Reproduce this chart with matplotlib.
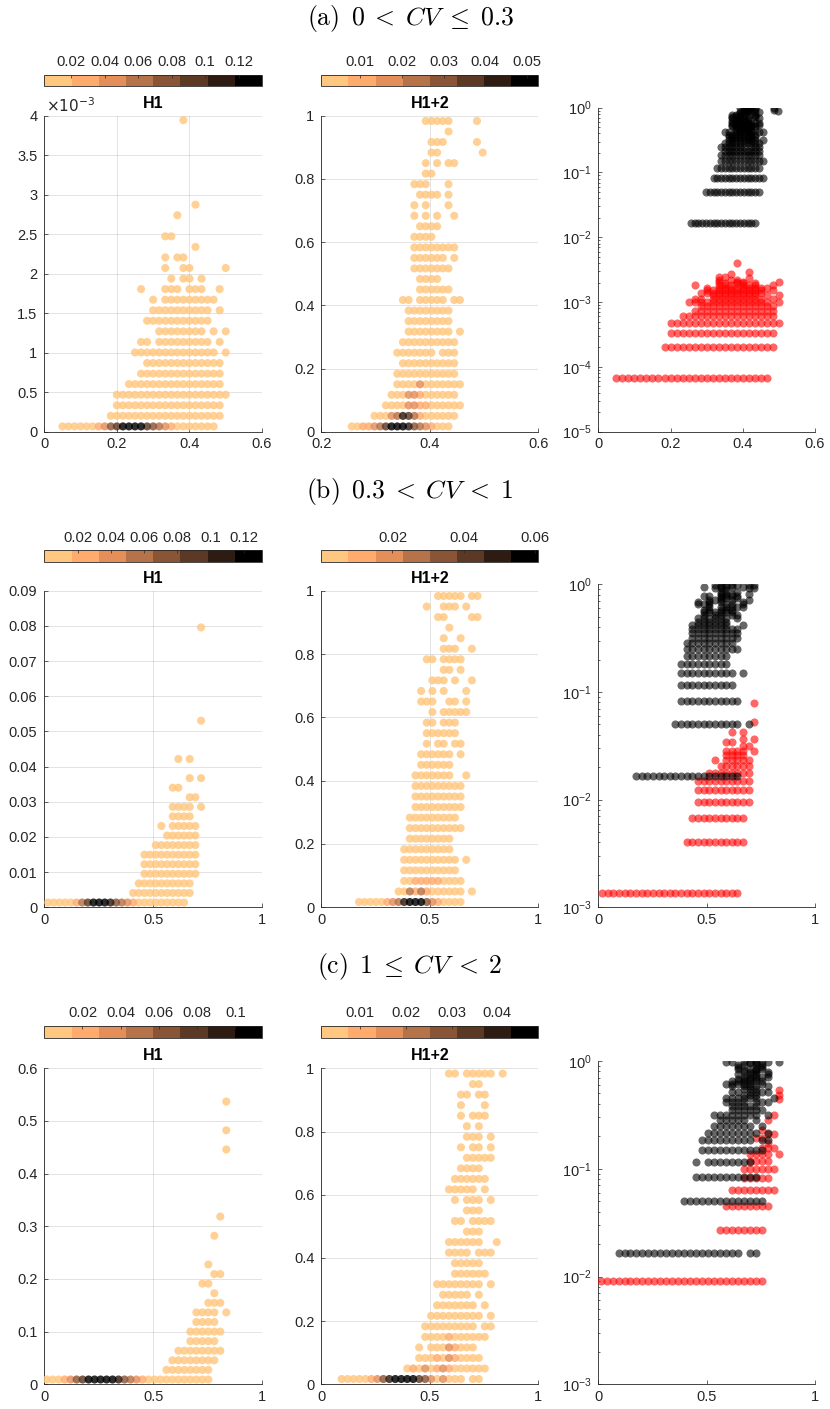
import numpy as np
import matplotlib
matplotlib.use("Agg")
import matplotlib.pyplot as plt
from matplotlib.colors import ListedColormap, Normalize
from matplotlib.cm import ScalarMappable
from matplotlib.ticker import FuncFormatter, LogLocator, NullFormatter

plt.rcParams['font.family'] = ['Liberation Sans', 'DejaVu Sans']
plt.rcParams['axes.unicode_minus'] = True

# ---------------------------------------------------------------------------
# Binned samples.  Each row: (value on the y-axis, occupied x-bins, {bin: frequency class}).
# x of bin i is x0 + i*dx.  Frequency classes run 1 (lowest) .. 8 (highest) of the colour scale;
# bins not listed in the class map are class 1.
# ---------------------------------------------------------------------------

# (a) 0 < CV <= 0.3
A_H1_GRID = (0.0, 1 / 60)
A_H1_ROWS = [
    (0.067e-3, "3-28", {9: 2, 10: 3, 11: 5, 12: 6, 13: 8, 14: 8, 15: 8, 16: 8,
                        17: 6, 18: 5, 19: 4, 20: 3, 21: 2}),
    (0.201e-3, "11-29"),
    (0.334e-3, "12-29"),
    (0.468e-3, "12-30"),
    (0.602e-3, "14-29"),
    (0.735e-3, "16-29"),
    (0.869e-3, "17-29"),
    (1.003e-3, "15-28,30"),
    (1.136e-3, "16,17,19-27,29"),
    (1.270e-3, "19-26,28,30"),
    (1.404e-3, "17-27"),
    (1.537e-3, "18-27,29"),
    (1.671e-3, "18,20-28"),
    (1.805e-3, "16,20-22,24-26,29"),
    (1.938e-3, "21,23,24,26"),
    (2.072e-3, "20,23,24,30"),
    (2.206e-3, "20,22,23"),
    (2.339e-3, "25"),
    (2.473e-3, "20,21"),
    (2.740e-3, "22"),
    (2.874e-3, "25"),
    (3.944e-3, "23"),
]
A_H1_CRANGE = (0.004, 0.134)
A_H1_CTICKS = [0.02, 0.04, 0.06, 0.08, 0.1, 0.12]

A_H12_GRID = (0.256, 0.0105)
A_H12_ROWS = [
    (0.0167, "0-17", {2: 2, 3: 2, 4: 3, 5: 4, 6: 6, 7: 8, 8: 8, 9: 8, 10: 7,
                      11: 5, 12: 4, 13: 3, 14: 2}),
    (0.0500, "4-18", {7: 3, 8: 4, 9: 7, 10: 6, 11: 4, 12: 2}),
    (0.0833, "6-19", {10: 3, 11: 3, 12: 2, 13: 2}),
    (0.1167, "7-18", {10: 3, 11: 3, 12: 2}),
    (0.1500, "8-19", {12: 3}),
    (0.1833, "8-18"),
    (0.2167, "9-18"),
    (0.2500, "8-14,16-18"),
    (0.2833, "9-18"),
    (0.3167, "10-17,19"),
    (0.3500, "10-17"),
    (0.3833, "10-17"),
    (0.4167, "9,10,12-16,18,19"),
    (0.4500, "12-17"),
    (0.4833, "12-15"),
    (0.5167, "11-17"),
    (0.5500, "11-16,18"),
    (0.5833, "11-18"),
    (0.6167, "11-14"),
    (0.6500, "12-15"),
    (0.6833, "11,13,15,18"),
    (0.7167, "11,13,17"),
    (0.7500, "12-15,17"),
    (0.7833, "11-13,17"),
    (0.8167, "13,14"),
    (0.8500, "13,15,17,18"),
    (0.8833, "14,15,23"),
    (0.9167, "14-16,22"),
    (0.9500, "17"),
    (0.9833, "13-17,22"),
]
A_H12_CRANGE = (0.0007, 0.0527)
A_H12_CTICKS = [0.01, 0.02, 0.03, 0.04, 0.05]

# (b) 0.3 < CV < 1
B_H1_GRID = (0.018, 0.026)
B_H1_ROWS = [
    (0.00136, "0-24", {5: 2, 6: 4, 7: 6, 8: 8, 9: 8, 10: 8, 11: 7, 12: 5,
                       13: 4, 14: 3, 15: 2}),
    (0.00408, "15-25"),
    (0.00680, "16-25"),
    (0.00952, "17-26"),
    (0.01224, "17-26"),
    (0.01496, "17-26"),
    (0.01768, "19-26"),
    (0.02040, "21-26"),
    (0.02312, "20,22-26"),
    (0.02584, "22-25"),
    (0.02856, "22-25,27"),
    (0.03128, "25,26"),
    (0.03400, "22,23"),
    (0.03672, "25,27"),
    (0.04216, "23,25"),
    (0.05304, "27"),
    (0.07956, "27"),
]
B_H1_CRANGE = (0.0, 0.131)
B_H1_CTICKS = [0.02, 0.04, 0.06, 0.08, 0.1, 0.12]

B_H12_GRID = (0.018, 0.026)
B_H12_ROWS = [
    (0.0167, "6-24", {11: 2, 12: 3, 13: 4, 14: 7, 15: 8, 16: 8, 17: 8, 18: 5,
                      19: 3, 20: 2}),
    (0.0500, "13-24,26", {15: 4, 16: 2, 17: 4, 18: 2}),
    (0.0833, "14-24", {16: 2, 17: 2, 18: 2, 19: 2, 20: 2}),
    (0.1167, "14-23"),
    (0.1500, "14-23,25"),
    (0.1833, "14-22"),
    (0.2167, "15-22"),
    (0.2500, "15-24"),
    (0.2833, "15-23"),
    (0.3167, "16-24"),
    (0.3500, "16-24"),
    (0.3833, "16-24"),
    (0.4167, "16-22,25"),
    (0.4500, "17-22"),
    (0.4833, "17-22,24"),
    (0.5167, "18,20,21,23,24"),
    (0.5500, "18-23"),
    (0.5833, "18,19,21-23"),
    (0.6167, "19,21-25"),
    (0.6500, "17-19,22,23,25"),
    (0.6833, "17,19,21,25"),
    (0.7167, "19-21,23,26"),
    (0.7500, "21,22,24"),
    (0.7833, "18,19,21-24"),
    (0.8167, "21-23,26"),
    (0.8500, "21,24"),
    (0.8833, "22"),
    (0.9167, "20,21,26,27"),
    (0.9500, "18,21-23,25"),
    (0.9833, "20-24,26,27"),
]
B_H12_CRANGE = (0.0, 0.061)
B_H12_CTICKS = [0.02, 0.04, 0.06]

# (c) 1 <= CV < 2
C_H1_GRID = (0.011, 0.0275)
C_H1_ROWS = [
    (0.0091, "0-27", {3: 2, 4: 3, 5: 5, 6: 6, 7: 8, 8: 8, 9: 8, 10: 8, 11: 8,
                      12: 7, 13: 5, 14: 4, 15: 3, 16: 2}),
    (0.0273, "20-27"),
    (0.0455, "21-28"),
    (0.0637, "22-29"),
    (0.0819, "24-28"),
    (0.1001, "24-29"),
    (0.1183, "25-28"),
    (0.1365, "25-28,30"),
    (0.1547, "27-29"),
    (0.1729, "28"),
    (0.1911, "26,27"),
    (0.2093, "28,29"),
    (0.2275, "27"),
    (0.2821, "28"),
    (0.3185, "29"),
    (0.4459, "30"),
    (0.4823, "30"),
    (0.5369, "30"),
]
C_H1_CRANGE = (0.0, 0.114)
C_H1_CTICKS = [0.02, 0.04, 0.06, 0.08, 0.1]

C_H12_GRID = (0.011, 0.0275)
C_H12_ROWS = [
    (0.0167, "3-23,25,26", {8: 2, 9: 3, 10: 5, 11: 7, 12: 8, 13: 8, 14: 8, 15: 8,
                            16: 6, 17: 5, 18: 3, 20: 3}),
    (0.0500, "14-27", {15: 2, 17: 3, 19: 2, 20: 3, 21: 2}),
    (0.0833, "16-26", {19: 2, 21: 3, 22: 2}),
    (0.1167, "16,18-25", {21: 3, 22: 2}),
    (0.1500, "17-27", {21: 2}),
    (0.1833, "17-25,27,28"),
    (0.2167, "18-26,28"),
    (0.2500, "19-25,27"),
    (0.2833, "20-24,26"),
    (0.3167, "19-26,28"),
    (0.3500, "22-27"),
    (0.3833, "22-26"),
    (0.4167, "21-24,26-28"),
    (0.4500, "21-26,29"),
    (0.4833, "24-26"),
    (0.5167, "22,23,25-28"),
    (0.5500, "24-26"),
    (0.5833, "22,24-26,28"),
    (0.6167, "21-25,27"),
    (0.6500, "22-27"),
    (0.6833, "23-26"),
    (0.7167, "24-28"),
    (0.7500, "23,25,26,28"),
    (0.7833, "24-26,28"),
    (0.8167, "24,26"),
    (0.8500, "23,25-27"),
    (0.8833, "23,27"),
    (0.9167, "23,24,26,27"),
    (0.9500, "25,26"),
    (0.9833, "21,22,24-28,30"),
]
C_H12_CRANGE = (0.0015, 0.049)
C_H12_CTICKS = [0.01, 0.02, 0.03, 0.04]

ROW_TITLES = [r"$\mathrm{(a)}\ \,0 \;<\; CV \;\leq\; 0.3$",
              r"$\mathrm{(b)}\ \,0.3 \;<\; CV \;<\; 1$",
              r"$\mathrm{(c)}\ \,1 \;\leq\; CV \;<\; 2$"]

# ---------------------------------------------------------------------------
W, H = 830, 1409
fig = plt.figure(figsize=(W / 100, H / 100), dpi=100)
fig.patch.set_facecolor("white")

AX_COL = (0.15, 0.15, 0.15)
COPPER8 = ['#FFC77F', '#FFAB6D', '#E48E5A', '#B67248',
           '#895536', '#5B3924', '#2E1C12', '#000000']
CMAP = ListedColormap(COPPER8)
MARKER_S = 34


def px_axes(left, top, right, bottom):
    return fig.add_axes([left / W, 1 - bottom / H, (right - left) / W, (bottom - top) / H])


def decode(rows, grid):
    x0, dx = grid
    xs, ys, cls = [], [], []
    for row in rows:
        y, spec = row[0], row[1]
        shade = row[2] if len(row) > 2 else {}
        for part in spec.split(','):
            if '-' in part:
                a, b = map(int, part.split('-'))
                bins = range(a, b + 1)
            else:
                bins = [int(part)]
            for i in bins:
                xs.append(x0 + i * dx)
                ys.append(y)
                cls.append(shade.get(i, 1))
    return np.array(xs), np.array(ys), np.array(cls)


def fmt_g(v, _):
    return f"{v:g}"


def base_style(ax):
    for s in ('top', 'right'):
        ax.spines[s].set_visible(False)
    for s in ('left', 'bottom'):
        ax.spines[s].set_color(AX_COL)
        ax.spines[s].set_linewidth(0.6)
    ax.tick_params(which='both', direction='in', colors=AX_COL, labelcolor=AX_COL,
                   labelsize=10.5, width=0.5)
    ax.tick_params(which='major', length=2.8)
    ax.tick_params(which='minor', length=1.6)
    ax.tick_params(axis='x', pad=4)
    ax.tick_params(axis='y', pad=5)
    ax.set_axisbelow(True)


def freq_panel(ax, cax, rows, grid, crange, cticks, xlim, xticks, ylim, yticks,
               title, title_y, yscale=1.0):
    xs, ys, cls = decode(rows, grid)
    vmin, vmax = crange
    vals = vmin + (cls - 0.5) * (vmax - vmin) / 8
    order = np.argsort(cls, kind='stable')
    norm = Normalize(vmin, vmax)
    ax.scatter(xs[order], ys[order], c=vals[order], cmap=CMAP, norm=norm,
               s=MARKER_S, alpha=0.82, linewidths=0, zorder=3)
    ax.set_xlim(xlim)
    ax.set_ylim(ylim)
    ax.set_xticks(xticks)
    ax.set_yticks(yticks)
    ax.xaxis.set_major_formatter(FuncFormatter(fmt_g))
    ax.yaxis.set_major_formatter(FuncFormatter(lambda v, p: f"{round(v / yscale, 6):g}"))
    ax.grid(True, color=AX_COL, alpha=0.15, linewidth=0.6)
    base_style(ax)

    cb = fig.colorbar(ScalarMappable(norm=norm, cmap=CMAP), cax=cax,
                      orientation='horizontal', ticklocation='top')
    cb.set_ticks(cticks)
    cb.ax.xaxis.set_major_formatter(FuncFormatter(fmt_g))
    cb.ax.tick_params(direction='in', length=2.5, width=0.5, labelsize=10.6,
                      colors=AX_COL, labelcolor=AX_COL, pad=4)
    cb.outline.set_linewidth(0.6)
    cb.outline.set_edgecolor(AX_COL)

    bb = ax.get_position()
    fig.text((bb.x0 + bb.x1) / 2, 1 - title_y / H, title, ha='center', va='center',
             fontsize=11.5, fontweight='bold', color='black')


def log_panel(ax, h1_rows, h1_grid, h12_rows, h12_grid, xlim, xticks, ylim):
    x1, y1, _ = decode(h1_rows, h1_grid)
    x2, y2, _ = decode(h12_rows, h12_grid)
    ax.scatter(x1, y1, s=MARKER_S, color='red', alpha=0.6, linewidths=0, zorder=3)
    ax.scatter(x2, y2, s=MARKER_S, color='black', alpha=0.6, linewidths=0, zorder=4)
    ax.set_yscale('log')
    ax.set_xlim(xlim)
    ax.set_ylim(ylim)
    ax.set_xticks(xticks)
    ax.xaxis.set_major_formatter(FuncFormatter(fmt_g))
    ax.yaxis.set_major_locator(LogLocator(base=10, numticks=12))
    ax.yaxis.set_minor_locator(LogLocator(base=10, subs=np.arange(2, 10), numticks=12))
    ax.yaxis.set_minor_formatter(NullFormatter())
    base_style(ax)


# panel layout, in pixels: (col1/col2 top, bottom, col3 top, colorbar top, colorbar bottom, title y, row title y)
ROWS_LAYOUT = [
    (115.7, 431.7, 107.7, 75.0, 86.0, 103.0, 18.0),
    (590.7, 907.3, 584.3, 550.3, 562.3, 579.0, 491.0),
    (1068.3, 1384.3, 1061.0, 1025.7, 1037.7, 1055.7, 966.0),
]
COL_X = [(44.3, 262.0), (321.3, 538.3), (598.3, 815.0)]

SPECS = [
    dict(h1=(A_H1_ROWS, A_H1_GRID, A_H1_CRANGE, A_H1_CTICKS),
         h12=(A_H12_ROWS, A_H12_GRID, A_H12_CRANGE, A_H12_CTICKS),
         h1_axes=((0, 0.6), [0, 0.2, 0.4, 0.6], (0, 4e-3),
                  [0, 0.5e-3, 1e-3, 1.5e-3, 2e-3, 2.5e-3, 3e-3, 3.5e-3, 4e-3], 1e-3),
         h12_axes=((0.2, 0.6), [0.2, 0.4, 0.6], (0, 1), [0, 0.2, 0.4, 0.6, 0.8, 1]),
         log_axes=((0, 0.6), [0, 0.2, 0.4, 0.6], (1e-5, 1))),
    dict(h1=(B_H1_ROWS, B_H1_GRID, B_H1_CRANGE, B_H1_CTICKS),
         h12=(B_H12_ROWS, B_H12_GRID, B_H12_CRANGE, B_H12_CTICKS),
         h1_axes=((0, 1), [0, 0.5, 1], (0, 0.09),
                  [0, 0.01, 0.02, 0.03, 0.04, 0.05, 0.06, 0.07, 0.08, 0.09], 1.0),
         h12_axes=((0, 1), [0, 0.5, 1], (0, 1), [0, 0.2, 0.4, 0.6, 0.8, 1]),
         log_axes=((0, 1), [0, 0.5, 1], (1e-3, 1))),
    dict(h1=(C_H1_ROWS, C_H1_GRID, C_H1_CRANGE, C_H1_CTICKS),
         h12=(C_H12_ROWS, C_H12_GRID, C_H12_CRANGE, C_H12_CTICKS),
         h1_axes=((0, 1), [0, 0.5, 1], (0, 0.6), [0, 0.1, 0.2, 0.3, 0.4, 0.5, 0.6], 1.0),
         h12_axes=((0, 1), [0, 0.5, 1], (0, 1), [0, 0.2, 0.4, 0.6, 0.8, 1]),
         log_axes=((0, 1), [0, 0.5, 1], (1e-3, 1))),
]

for r, (spec, lay, rtitle) in enumerate(zip(SPECS, ROWS_LAYOUT, ROW_TITLES)):
    top, bottom, top3, cb_top, cb_bot, title_y, rtitle_y = lay

    # H1 panel
    ax1 = px_axes(COL_X[0][0], top, COL_X[0][1], bottom)
    cax1 = px_axes(COL_X[0][0], cb_top, COL_X[0][1], cb_bot)
    rows, grid, crange, cticks = spec['h1']
    xlim, xticks, ylim, yticks, ysc = spec['h1_axes']
    freq_panel(ax1, cax1, rows, grid, crange, cticks, xlim, xticks, ylim, yticks,
               "H1", title_y, yscale=ysc)
    if ysc != 1.0:
        fig.text(46 / W, 1 - (top - 10) / H, r"$\times10^{-3}$", ha='left', va='center',
                 fontsize=11, color=AX_COL)

    # H1+2 panel
    ax2 = px_axes(COL_X[1][0], top, COL_X[1][1], bottom)
    cax2 = px_axes(COL_X[1][0], cb_top, COL_X[1][1], cb_bot)
    rows, grid, crange, cticks = spec['h12']
    xlim, xticks, ylim, yticks = spec['h12_axes']
    freq_panel(ax2, cax2, rows, grid, crange, cticks, xlim, xticks, ylim, yticks,
               "H1+2", title_y)

    # both on a log scale
    ax3 = px_axes(COL_X[2][0], top3, COL_X[2][1], bottom)
    xlim, xticks, ylim = spec['log_axes']
    log_panel(ax3, spec['h1'][0], spec['h1'][1], spec['h12'][0], spec['h12'][1],
              xlim, xticks, ylim)

    fig.text(410 / W, 1 - rtitle_y / H, rtitle, ha='center', va='center',
             fontsize=18.5, math_fontfamily='cm', color='black')

fig.savefig("out.png", dpi=100, facecolor="white")
